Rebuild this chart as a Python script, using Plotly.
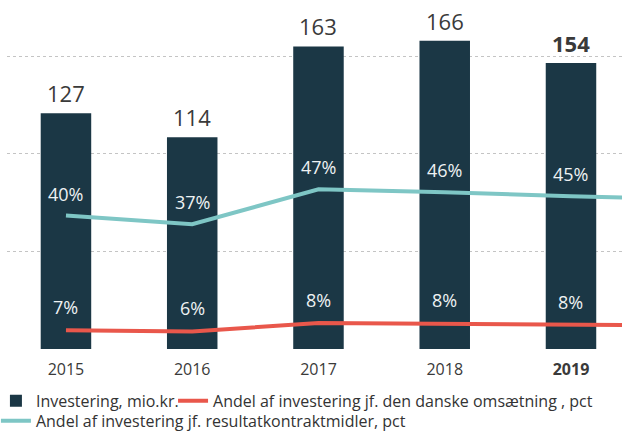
import plotly.graph_objects as go

# Data
years = ['2015', '2016', '2017', '2018', '2019']
investering = [127, 114, 163, 166, 154]  # mio.kr.
andel_omsaetning = [6.6, 6.3, 8.4, 8.3, 8.0]  # pct
andel_resultatkontrakt = [39.7, 37.3, 47.0, 46.2, 45.1]  # pct

# the two lines run on past the right edge of the crop; next point estimated
line_years = years + ['2020']
omsaetning_line = andel_omsaetning + [7.8]
resultatkontrakt_line = andel_resultatkontrakt + [44.2]

BAR_COLOR = '#1b3745'
RED = '#e9574b'
TEAL = '#7ec6c5'
FONT = 'Open Sans'

fig = go.Figure()

fig.add_trace(go.Bar(
    x=years,
    y=investering,
    name='Investering, mio.kr.',
    marker=dict(color=BAR_COLOR, line=dict(width=0)),
    width=0.4,
    hoverinfo='skip',
    legend='legend'
))

fig.add_trace(go.Scatter(
    x=line_years,
    y=omsaetning_line,
    mode='lines',
    name='Andel af investering jf. den danske omsætning , pct',
    line=dict(color=RED, width=4),
    yaxis='y3',
    hoverinfo='skip',
    legend='legend2'
))

fig.add_trace(go.Scatter(
    x=line_years,
    y=resultatkontrakt_line,
    mode='lines',
    name='Andel af investering jf. resultatkontraktmidler, pct',
    line=dict(color=TEAL, width=4),
    yaxis='y2',
    hoverinfo='skip',
    legend='legend3'
))

annotations = []
for i, yr in enumerate(years):
    last = i == len(years) - 1
    txt = str(investering[i])
    # category index as x position
    annotations.append(dict(
        x=i, y=investering[i], xref='x', yref='y',
        text=f'<b>{txt}</b>' if last else txt,
        showarrow=False, yanchor='middle', yshift=20,
        font=dict(family=FONT, size=22, color='#3a3a3a')
    ))
    annotations.append(dict(
        x=i, y=andel_resultatkontrakt[i], xref='x', yref='y2',
        text=f'{andel_resultatkontrakt[i]:.0f}%',
        showarrow=False, yanchor='middle', yshift=22,
        font=dict(family=FONT, size=18, color='#eef2f3')
    ))
    annotations.append(dict(
        x=i, y=andel_omsaetning[i], xref='x', yref='y3',
        text=f'{andel_omsaetning[i]:.0f}%',
        showarrow=False, yanchor='middle', yshift=23,
        font=dict(family=FONT, size=18, color='#eef2f3')
    ))

legend_style = dict(
    orientation='h',
    xanchor='left',
    yanchor='middle',
    font=dict(family=FONT, size=16, color='#333333'),
    bgcolor='rgba(0,0,0,0)',
    itemclick=False,
)

fig.update_layout(
    width=622,
    height=434,
    margin=dict(l=7, r=0, t=10, b=85, autoexpand=False),
    paper_bgcolor='white',
    plot_bgcolor='white',
    font=dict(family=FONT, color='#3a3a3a'),
    showlegend=True,
    xaxis=dict(
        type='category',
        categoryorder='array',
        categoryarray=line_years,
        range=[-0.467, 4.404],
        tickvals=years,
        ticktext=years[:-1] + ['<b>2019</b>'],
        tickfont=dict(family=FONT, size=16, color='#3a3a3a'),
        ticklabelstandoff=9,
        showgrid=False,
        zeroline=False,
        showline=False,
        ticks='',
    ),
    yaxis=dict(
        range=[0, 182.6],
        tick0=0,
        dtick=52.6,
        showgrid=True,
        gridcolor='#c4c4c4',
        griddash='dot',
        gridwidth=1,
        zeroline=False,
        showticklabels=False,
    ),
    # the two pct lines sit on their own hidden scales
    yaxis2=dict(
        overlaying='y',
        range=[2.64, 96.8],
        visible=False,
    ),
    yaxis3=dict(
        overlaying='y',
        range=[1.9, 86.65],
        visible=False,
    ),
    legend=dict(legend_style, x=-0.018, y=-0.153),
    legend2=dict(legend_style, x=0.27, y=-0.153),
    legend3=dict(legend_style, x=-0.018, y=-0.212),
    annotations=annotations,
)

# drop the default body margin so the figure sits at the page corner
fig.write_html('out.html', config={'displayModeBar': False},
               post_script="document.body.style.margin='0';")
